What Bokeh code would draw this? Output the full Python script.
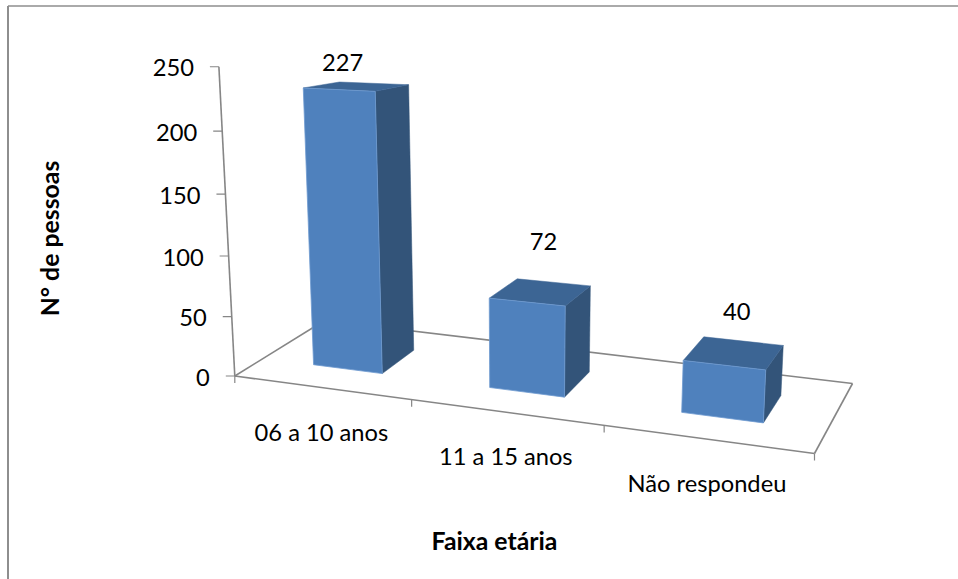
import numpy as np
from bokeh.plotting import figure
from bokeh.models import Range1d
from bokeh.core.properties import value
from bokeh.embed import file_html
from bokeh.resources import INLINE

# ---- data ----
categories = ["06 a 10 anos", "11 a 15 anos", "Não respondeu"]
values = [227, 72, 40]
y_ticks = [0, 50, 100, 150, 200, 250]
y_title = "N° de pessoas"
x_title = "Faixa etária"

# ---- layout of the 3-D view (pixels of the page) ----
W, H = 958, 579
A = np.array([234.3, 375.5])   # floor, front-left
D = np.array([814.0, 453.0])   # floor, front-right
C = np.array([852.0, 383.0])   # floor, back-right
B = np.array([324.0, 320.0])   # floor, back-left
PERSP_U, PERSP_W = 1.139, 0.91
VANISH_X, TILT = 520.0, 0.00018
BAR_LO, BAR_HI = 0.3, 0.7
label_shift_x = [-14, 3, 3]
label_shift_y = [-24, -50, -41]


def fu(u):
    r = u / 3.0
    return r / (r + PERSP_U * (1 - r))


def fw(w):
    return w / (w + PERSP_W * (1 - w))


def height(v):
    return v * (1.175 + 0.000248 * v)


def project(u, w, v, on_axis=False):
    t, d = fu(u), fw(w)
    front = A + (D - A) * t
    back = B + (C - B) * t
    x, y = front + (back - front) * d
    h = height(v) * (1.0 if on_axis else 1.024 + 0.16 * t - 0.15 * d)
    return x + (x - VANISH_X) * TILT * h, y - h


p = figure(width=W, height=H, x_range=Range1d(0, W), y_range=Range1d(H, 0),
           output_backend="svg", toolbar_location=None, min_border=0,
           outline_line_color=None, margin=(0, 0, 0, 0))
p.axis.visible = False
p.grid.visible = False

GREY = "#868686"
FONT = value("Lato")
FS = "23.7px"
FS_B = "24.8px"

# chart frame
p.line([7.5, 7.5], [H, 5.5], line_color="#8e8e8e", line_width=2)
p.line([7.5, W], [5.5, 5.5], line_color="#8e8e8e", line_width=1.5)


def seg(a, b, width=1.6):
    p.line([a[0], b[0]], [a[1], b[1]], line_color=GREY, line_width=width)


# floor
seg(project(0, 0, 0), project(0, 1, 0))
seg(project(0, 1, 0), project(3, 1, 0))
seg(project(3, 1, 0), project(3, 0, 0))

# bars
front_x, front_y, side_x, side_y, top_x, top_y = [], [], [], [], [], []
for i, val in enumerate(values):
    l, r = i + BAR_LO, i + BAR_HI
    fl0, fr0, br0 = project(l, BAR_LO, 0), project(r, BAR_LO, 0), project(r, BAR_HI, 0)
    fl1, fr1, br1, bl1 = (project(l, BAR_LO, val), project(r, BAR_LO, val),
                          project(r, BAR_HI, val), project(l, BAR_HI, val))
    front_x.append([fl0[0], fr0[0], fr1[0], fl1[0]])
    front_y.append([fl0[1], fr0[1], fr1[1], fl1[1]])
    side_x.append([fr0[0], br0[0], br1[0], fr1[0]])
    side_y.append([fr0[1], br0[1], br1[1], fr1[1]])
    top_x.append([fl1[0], fr1[0], br1[0], bl1[0]])
    top_y.append([fl1[1], fr1[1], br1[1], bl1[1]])
p.patches(side_x, side_y, fill_color="#335479", line_color="#335479", line_width=0.5)
p.patches(top_x, top_y, fill_color="#3C6594", line_color="#3C6594", line_width=0.5)
p.patches(front_x, front_y, fill_color="#4F81BD", line_color="#6f9ad0", line_width=0.8)

# front edge and axes
seg(project(0, 0, 0), project(3, 0, 0))
seg(project(0, 0, 0, True), project(0, 0, max(y_ticks), True))
for u in range(4):
    x0, y0 = project(u, 0, 0)
    seg((x0, y0), (x0, y0 + 7), 1.2)

ty_x, ty_y = [], []
for t in y_ticks:
    x0, y0 = project(0, 0, t, True)
    seg((x0 - 9, y0), (x0, y0), 1.2)
    ty_x.append(x0 - 25)
    ty_y.append(y0 + 1)
p.text(ty_x, ty_y, text=[str(t) for t in y_ticks], text_font=FONT, text_font_size=FS,
       text_align="right", text_baseline="middle", text_color="#000000")

cx, cy = zip(*[project(i + 0.5, 0, 0) for i in range(3)])
p.text(list(cx), [y + 44 for y in cy], text=categories, text_font=FONT, text_font_size=FS,
       text_align="center", text_baseline="middle", text_color="#000000")

lx, ly = [], []
for i, val in enumerate(values):
    x0, y0 = project(i + 0.5, 0.5, val)
    lx.append(x0 + label_shift_x[i])
    ly.append(y0 + label_shift_y[i])
p.text(lx, ly, text=[str(v) for v in values], text_font=FONT, text_font_size=FS,
       text_align="center", text_baseline="middle", text_color="#000000")

p.text([494], [540], text=[x_title], text_font=FONT, text_font_size=FS_B, text_font_style="bold",
       text_align="center", text_baseline="middle", text_color="#000000")
p.text([49], [238], text=[y_title], text_font=FONT, text_font_size=FS_B, text_font_style="bold",
       text_align="center", text_baseline="middle", text_color="#000000", angle=np.pi / 2)

open("out.html", "w").write(file_html(p, INLINE))
